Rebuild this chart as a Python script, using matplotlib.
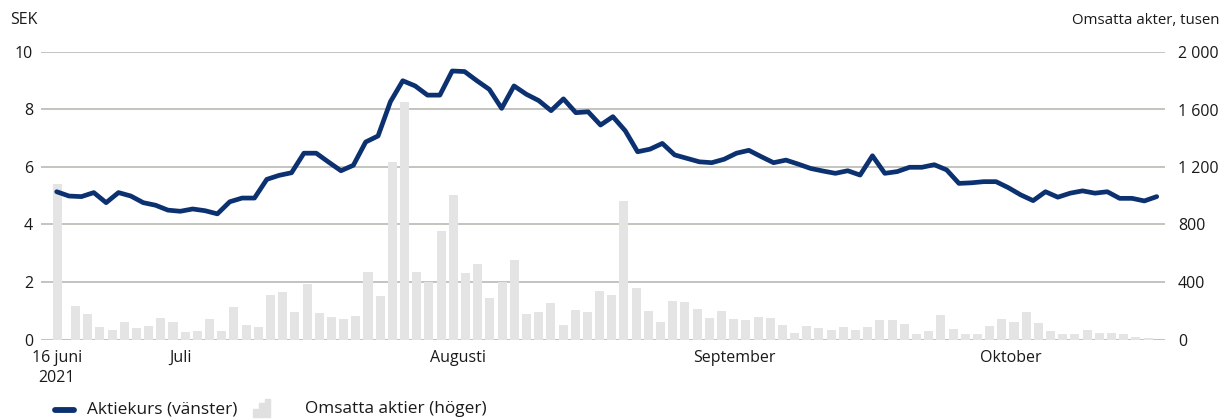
import numpy as np
import matplotlib

matplotlib.use("Agg")
import matplotlib.pyplot as plt
from matplotlib.lines import Line2D
from matplotlib.patches import Rectangle
from matplotlib.ticker import FuncFormatter

# share price, SEK (left axis), one value per trading day from 16 June 2021
price = [5.14, 4.99, 4.97, 5.11, 4.76, 5.11, 4.99, 4.76, 4.67, 4.50,
         4.46, 4.54, 4.48, 4.37, 4.79, 4.92, 4.92, 5.57, 5.71, 5.80,
         6.48, 6.48, 6.17, 5.87, 6.06, 6.87, 7.08, 8.27, 9.00, 8.82,
         8.50, 8.50, 9.34, 9.32, 9.00, 8.70, 8.04, 8.82, 8.53, 8.31,
         7.96, 8.37, 7.89, 7.92, 7.46, 7.75, 7.26, 6.53, 6.62, 6.82,
         6.42, 6.30, 6.18, 6.15, 6.27, 6.48, 6.58, 6.36, 6.15, 6.24,
         6.10, 5.95, 5.86, 5.78, 5.87, 5.72, 6.39, 5.78, 5.84, 5.99,
         5.99, 6.08, 5.90, 5.43, 5.45, 5.49, 5.49, 5.28, 5.03, 4.83,
         5.14, 4.95, 5.09, 5.17, 5.09, 5.14, 4.91, 4.91, 4.82, 4.97]

# traded shares, thousands (right axis)
volume = [1084, 233, 178, 87, 66, 122, 80, 94, 150, 122,
          52, 59, 143, 59, 226, 101, 87, 310, 331, 192,
          387, 185, 157, 143, 164, 470, 303, 1237, 1655, 470,
          401, 756, 1007, 463, 526, 289, 401, 554, 178, 192,
          254, 101, 206, 192, 338, 310, 965, 359, 199, 122,
          268, 261, 213, 150, 199, 143, 136, 157, 150, 101,
          45, 94, 80, 67, 88, 67, 88, 137, 137, 109,
          39, 60, 172, 74, 39, 39, 95, 144, 123, 193,
          116, 60, 39, 39, 67, 46, 46, 39, 18, 11]

month_labels = ["16 juni\n2021", "Juli", "Augusti", "September", "Oktober"]
left_ticks = [0, 2, 4, 6, 8, 10]
right_ticks = [0, 400, 800, 1200, 1600, 2000]

W, H = 1221, 419
NAVY = "#0c3170"
BAR = "#e4e4e4"
GRID = "#b4b4ae"
TXT = "#1a1a1a"
TICK_FS = 11.5
LEG_FS = 12.4

plt.rcParams["font.family"] = ["Open Sans", "DejaVu Sans"]
plt.rcParams["font.size"] = 10.5
plt.rcParams["text.color"] = TXT

fig = plt.figure(figsize=(W / 100, H / 100), dpi=100)


def fx(x):
    return x / W


def fy(y):
    return 1 - y / H


ax = fig.add_axes([fx(41), fy(339.5), fx(1165) - fx(41), fy(52) - fy(339.5)])
ax2 = ax.twinx()

x_line = np.arange(len(price))
x_bar = np.r_[0.1, np.linspace(1.52, 88.3, len(volume) - 1)]

# bars on the base axes (right scale), line on the twin (left scale) so it sits on top
ax.bar(x_bar, volume, width=0.73, color=BAR, zorder=2)
ax2.plot(x_line, price, color=NAVY, lw=3.4, solid_joinstyle="round", solid_capstyle="round", zorder=3)

ax.set_xlim(-1.27, 89.67)
ax.set_ylim(0, 2000)
ax2.set_ylim(0, 10)

ax.yaxis.tick_right()
ax2.yaxis.tick_left()
ax.set_yticks(right_ticks)
ax.yaxis.set_major_formatter(FuncFormatter(lambda v, _: f"{int(v):,}".replace(",", " ")))
ax2.set_yticks(left_ticks)
ax.tick_params(axis="y", length=0, pad=9.4, labelsize=TICK_FS, labelcolor=TXT)
ax2.tick_params(axis="y", length=0, pad=5.8, labelsize=TICK_FS, labelcolor=TXT)

ax.set_xticks([0, 10.05, 32.5, 54.8, 77.2], month_labels)
ax.tick_params(axis="x", length=0, pad=7.5, labelsize=TICK_FS, labelcolor=TXT)
for lab in ax.get_xticklabels():
    lab.set_linespacing(1.3)

for v in right_ticks[1:]:
    ax.axhline(v, color=GRID, lw=1.1, zorder=0)
ax.axhline(0, color="#c4c4c0", lw=2.2, zorder=1)

for a in (ax, ax2):
    for s in a.spines.values():
        s.set_visible(False)

fig.text(fx(10), fy(20), "SEK", ha="left", va="center", fontsize=11.5)
fig.text(fx(1219), fy(20), "Omsatta akter, tusen", ha="right", va="center", fontsize=10.8)

# legend drawn by hand: thick line swatch and a small three-bar icon
fig.add_artist(Line2D([fx(55), fx(74)], [fy(410), fy(410)], color=NAVY, lw=4.2,
                      solid_capstyle="round", transform=fig.transFigure))
fig.text(fx(87), fy(409), "Aktiekurs (vänster)", ha="left", va="center", fontsize=LEG_FS)
for bx, bh in [(253, 8), (259, 14), (265, 18)]:
    fig.add_artist(Rectangle((fx(bx), fy(417)), fx(5), bh / H, color="#e0e0e0",
                             transform=fig.transFigure))
fig.text(fx(305), fy(409), "Omsatta aktier (höger)", ha="left", va="center", fontsize=LEG_FS)

fig.savefig("out.png", dpi=100)
